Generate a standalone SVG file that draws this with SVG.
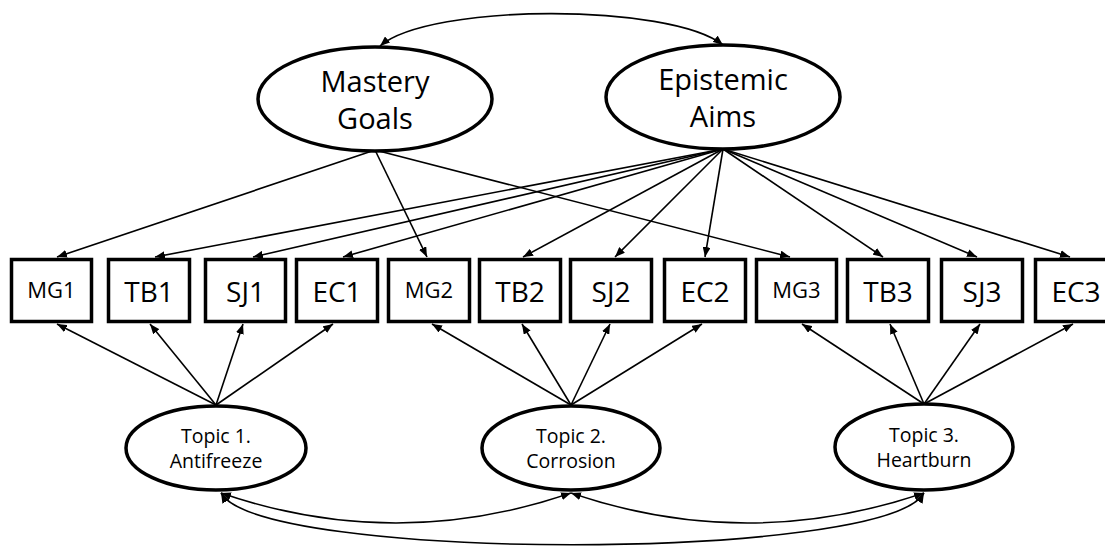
<svg xmlns="http://www.w3.org/2000/svg" width="1105" height="548" viewBox="0 0 1105 548">
  <style>
    .bg { fill: #ffffff; }
    .latent { fill: #ffffff; stroke: #000000; stroke-width: 3.5; }
    .obs { fill: #ffffff; stroke: #000000; stroke-width: 3.5; }
    .edge { fill: none; stroke: #000000; stroke-width: 1.6; marker-end: url(#arrow); }
    .cov { fill: none; stroke: #000000; stroke-width: 1.6; marker-start: url(#arrow); marker-end: url(#arrow); }
    text { font-family: "Open Sans", "DejaVu Sans", sans-serif; fill: #000000; text-anchor: middle; }
    .big { font-size: 29px; }
    .item { font-size: 28px; }
    .mg { font-size: 22px; }
    .topic { font-size: 19.5px; }
  </style>
  <defs>
    <marker id="arrow" viewBox="0 0 10 8" refX="10" refY="4" markerWidth="10" markerHeight="8" markerUnits="userSpaceOnUse" orient="auto-start-reverse">
      <path d="M0,0 L10,4 L0,8 z" fill="#000000"/>
    </marker>
  </defs>
  <rect class="bg" x="0" y="0" width="1105" height="548"/>

  <!-- connectors -->
  <g id="connectors">
    <!-- correlation between the two motivation factors -->
    <path class="cov" d="M380,46 C430,3 670,3 723,45"/>
    <!-- Mastery Goals loadings -->
    <line class="edge" x1="375" y1="150" x2="57" y2="257"/>
    <line class="edge" x1="375" y1="150" x2="427" y2="257"/>
    <line class="edge" x1="375" y1="150" x2="790" y2="257"/>
    <!-- Epistemic Aims loadings -->
    <line class="edge" x1="723" y1="149" x2="155" y2="257"/>
    <line class="edge" x1="723" y1="149" x2="253" y2="257"/>
    <line class="edge" x1="723" y1="149" x2="343" y2="257"/>
    <line class="edge" x1="723" y1="149" x2="523" y2="257"/>
    <line class="edge" x1="723" y1="149" x2="615" y2="257"/>
    <line class="edge" x1="723" y1="149" x2="705" y2="257"/>
    <line class="edge" x1="723" y1="149" x2="883" y2="257"/>
    <line class="edge" x1="723" y1="149" x2="977" y2="257"/>
    <line class="edge" x1="723" y1="149" x2="1070" y2="257"/>
    <!-- Topic 1 loadings -->
    <line class="edge" x1="216" y1="405" x2="57" y2="324"/>
    <line class="edge" x1="216" y1="405" x2="150" y2="324"/>
    <line class="edge" x1="216" y1="405" x2="243" y2="324"/>
    <line class="edge" x1="216" y1="405" x2="333" y2="324"/>
    <!-- Topic 2 loadings -->
    <line class="edge" x1="571" y1="405" x2="432" y2="324"/>
    <line class="edge" x1="571" y1="405" x2="522" y2="324"/>
    <line class="edge" x1="571" y1="405" x2="610" y2="324"/>
    <line class="edge" x1="571" y1="405" x2="702" y2="324"/>
    <!-- Topic 3 loadings -->
    <line class="edge" x1="924" y1="404" x2="802" y2="324"/>
    <line class="edge" x1="924" y1="404" x2="890" y2="324"/>
    <line class="edge" x1="924" y1="404" x2="980" y2="324"/>
    <line class="edge" x1="924" y1="404" x2="1073" y2="324"/>
    <!-- correlations between topics -->
    <path class="cov" d="M221,493 Q396,553 571,493"/>
    <path class="cov" d="M571,493 Q747,553 924,493"/>
    <path class="cov" d="M221,493 C260,562 885,562 924,493"/>
  </g>

  <!-- latent factors -->
  <g id="mastery-goals">
    <ellipse class="latent" cx="375" cy="99" rx="117" ry="52"/>
    <text class="big" x="375" y="92">Mastery</text>
    <text class="big" x="375" y="129">Goals</text>
  </g>
  <g id="epistemic-aims">
    <ellipse class="latent" cx="723" cy="97" rx="117" ry="52"/>
    <text class="big" x="723" y="90">Epistemic</text>
    <text class="big" x="723" y="127">Aims</text>
  </g>

  <!-- observed indicators -->
  <g id="MG1"><rect class="obs" x="11.5" y="259.5" width="80" height="62"/><text class="mg" x="51.5" y="298">MG1</text></g>
  <g id="TB1"><rect class="obs" x="108.5" y="259.5" width="81" height="62"/><text class="item" x="149" y="302">TB1</text></g>
  <g id="SJ1"><rect class="obs" x="205.5" y="259.5" width="80" height="62"/><text class="item" x="245.5" y="302">SJ1</text></g>
  <g id="EC1"><rect class="obs" x="296.5" y="259.5" width="81" height="62"/><text class="item" x="337" y="302">EC1</text></g>
  <g id="MG2"><rect class="obs" x="388.5" y="259.5" width="81" height="62"/><text class="mg" x="429" y="298">MG2</text></g>
  <g id="TB2"><rect class="obs" x="479.5" y="259.5" width="81" height="62"/><text class="item" x="520" y="302">TB2</text></g>
  <g id="SJ2"><rect class="obs" x="570.5" y="259.5" width="81" height="62"/><text class="item" x="611" y="302">SJ2</text></g>
  <g id="EC2"><rect class="obs" x="664.5" y="259.5" width="81" height="62"/><text class="item" x="705" y="302">EC2</text></g>
  <g id="MG3"><rect class="obs" x="756.5" y="259.5" width="80" height="62"/><text class="mg" x="796.5" y="298">MG3</text></g>
  <g id="TB3"><rect class="obs" x="847.5" y="259.5" width="81" height="62"/><text class="item" x="888" y="302">TB3</text></g>
  <g id="SJ3"><rect class="obs" x="941.5" y="259.5" width="81" height="62"/><text class="item" x="982" y="302">SJ3</text></g>
  <g id="EC3"><rect class="obs" x="1035.5" y="259.5" width="81" height="62"/><text class="item" x="1076" y="302">EC3</text></g>

  <!-- topic factors -->
  <g id="topic1">
    <ellipse class="latent" cx="216" cy="448" rx="90" ry="42"/>
    <text class="topic" x="216" y="443">Topic 1.</text>
    <text class="topic" x="216" y="468">Antifreeze</text>
  </g>
  <g id="topic2">
    <ellipse class="latent" cx="571" cy="448" rx="89" ry="42"/>
    <text class="topic" x="571" y="443">Topic 2.</text>
    <text class="topic" x="571" y="468">Corrosion</text>
  </g>
  <g id="topic3">
    <ellipse class="latent" cx="924" cy="447" rx="89" ry="43"/>
    <text class="topic" x="924" y="442">Topic 3.</text>
    <text class="topic" x="924" y="467">Heartburn</text>
  </g>
</svg>
